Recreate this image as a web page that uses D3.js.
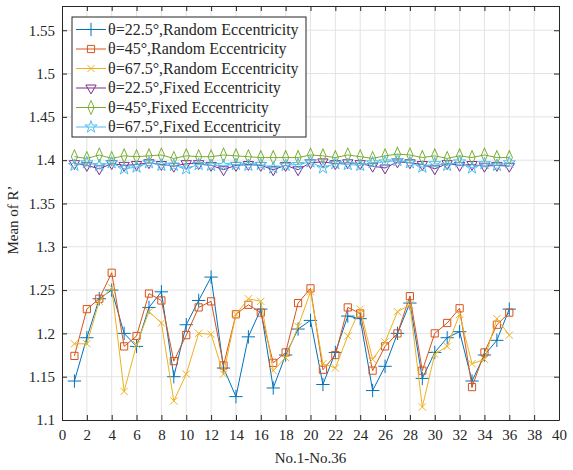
<!DOCTYPE html>
<html>
<head>
<meta charset="utf-8">
<script src="https://cdn.jsdelivr.net/npm/d3@7"></script>
<style>
  body { margin: 0; background: #fff; }
  svg text { font-family: "Liberation Serif"; }
</style>
</head>
<body>
<svg id="chart"></svg>
<script>
// Chart size
const width = 573, height = 470;
const serif = "Liberation Serif";

// Data: sample numbers 1..36
const samples = d3.range(1, 37);

const rand225 = [1.145, 1.195, 1.240, 1.250, 1.200, 1.185, 1.230, 1.248, 1.150, 1.210, 1.238, 1.265,
  1.160, 1.127, 1.196, 1.228, 1.137, 1.175, 1.205, 1.215, 1.141, 1.178, 1.220, 1.217,
  1.134, 1.162, 1.200, 1.235, 1.148, 1.178, 1.195, 1.202, 1.145, 1.175, 1.192, 1.228];
const rand45 = [1.174, 1.228, 1.240, 1.270, 1.185, 1.197, 1.246, 1.238, 1.168, 1.198, 1.230, 1.237,
  1.163, 1.222, 1.233, 1.224, 1.166, 1.178, 1.235, 1.252, 1.158, 1.175, 1.230, 1.223,
  1.157, 1.185, 1.200, 1.243, 1.157, 1.200, 1.212, 1.229, 1.138, 1.178, 1.210, 1.224];
const rand675 = [1.188, 1.188, 1.237, 1.253, 1.133, 1.187, 1.225, 1.212, 1.122, 1.153, 1.200, 1.199,
  1.153, 1.222, 1.240, 1.237, 1.157, 1.172, 1.208, 1.248, 1.165, 1.160, 1.197, 1.228,
  1.170, 1.190, 1.225, 1.233, 1.115, 1.176, 1.185, 1.222, 1.165, 1.170, 1.217, 1.198];
const fixed225 = [1.396, 1.394, 1.390, 1.396, 1.394, 1.395, 1.397, 1.395, 1.393, 1.396, 1.396, 1.394,
  1.389, 1.394, 1.395, 1.394, 1.389, 1.394, 1.389, 1.397, 1.398, 1.396, 1.397, 1.396,
  1.393, 1.391, 1.398, 1.397, 1.395, 1.390, 1.396, 1.394, 1.395, 1.393, 1.394, 1.393];
const fixed45 = [1.404, 1.402, 1.406, 1.402, 1.405, 1.404, 1.405, 1.406, 1.402, 1.405, 1.404, 1.404,
  1.406, 1.405, 1.404, 1.403, 1.403, 1.403, 1.403, 1.406, 1.405, 1.403, 1.406, 1.404,
  1.402, 1.405, 1.407, 1.406, 1.403, 1.405, 1.402, 1.405, 1.403, 1.406, 1.403, 1.403];
const fixed675 = [1.394, 1.397, 1.394, 1.397, 1.390, 1.392, 1.397, 1.394, 1.394, 1.390, 1.395, 1.394,
  1.394, 1.395, 1.394, 1.395, 1.391, 1.394, 1.395, 1.398, 1.391, 1.396, 1.395, 1.394,
  1.397, 1.398, 1.3996, 1.397, 1.392, 1.396, 1.394, 1.398, 1.391, 1.396, 1.394, 1.397];

const seriesNames = ["θ=22.5°,Random Eccentricity", "θ=45°,Random Eccentricity", "θ=67.5°,Random Eccentricity",
  "θ=22.5°,Fixed Eccentricity", "θ=45°,Fixed Eccentricity", "θ=67.5°,Fixed Eccentricity"];
const seriesValues = [rand225, rand45, rand675, fixed225, fixed45, fixed675];
const seriesColors = ["#0072BD", "#D95319", "#EDB120", "#7E2F8E", "#77AC30", "#4DBEEE"];
const seriesMarkers = ["plus", "square", "cross", "triangleDown", "diamond", "star"];

const xTicks = d3.range(0, 41, 2);
const yTicks = d3.range(0, 10).map(i => +(1.1 + i * 0.05).toFixed(2));

// Plot box
const margin = { left: 62, right: 14, top: 6, bottom: 50 };
const plotW = width - margin.left - margin.right;
const plotH = height - margin.top - margin.bottom;

const svg = d3.select("#chart").attr("width", width).attr("height", height);

const x = d3.scaleLinear().domain([0, 40]).range([margin.left, margin.left + plotW]);
const y = d3.scaleLinear().domain([1.1, 1.578]).range([margin.top + plotH, margin.top]);

// Grid
const grid = svg.append("g").attr("stroke", "#e3e3e3").attr("stroke-width", 1);
grid.selectAll(".gx").data(xTicks.slice(1, -1)).join("line")
  .attr("x1", d => x(d)).attr("x2", d => x(d))
  .attr("y1", y.range()[0]).attr("y2", y.range()[1]);
grid.selectAll(".gy").data(yTicks.slice(1)).join("line")
  .attr("y1", d => y(d)).attr("y2", d => y(d))
  .attr("x1", x.range()[0]).attr("x2", x.range()[1]);

// Axes (ticks point inward, box all round)
const axisColor = "#262626";
const axBottom = svg.append("g")
  .attr("transform", `translate(0,${y.range()[0]})`)
  .call(d3.axisBottom(x).tickValues(xTicks).tickSizeInner(-5).tickSizeOuter(0).tickPadding(9));
const axLeft = svg.append("g")
  .attr("transform", `translate(${x.range()[0]},0)`)
  .call(d3.axisLeft(y).tickValues(yTicks).tickFormat(d3.format("")).tickSizeInner(-5).tickSizeOuter(0).tickPadding(7));
const axTop = svg.append("g")
  .attr("transform", `translate(0,${y.range()[1]})`)
  .call(d3.axisTop(x).tickValues(xTicks).tickSizeInner(-5).tickSizeOuter(0).tickFormat(""));
const axRight = svg.append("g")
  .attr("transform", `translate(${x.range()[1]},0)`)
  .call(d3.axisRight(y).tickValues(yTicks).tickSizeInner(-5).tickSizeOuter(0).tickFormat(""));

[axBottom, axLeft, axTop, axRight].forEach(g => {
  g.attr("font-family", serif).attr("font-size", 15);
  g.select(".domain").attr("stroke", axisColor);
  g.selectAll(".tick line").attr("stroke", axisColor);
  g.selectAll("text").attr("fill", axisColor);
});

// Marker shapes
const symbolPath = {
  plus: d3.symbol(d3.symbolPlus, 60),
  square: d3.symbol(d3.symbolSquare, 52),
  cross: d3.symbol(d3.symbolTimes, 36),
  triangleDown: d3.symbol(d3.symbolTriangle, 46),
  diamond: d3.symbol(d3.symbolDiamond, 46),
  star: d3.symbol(d3.symbolStar, 46)
};
function drawMarker(g, kind, color) {
  const p = g.append("path")
    .attr("d", symbolPath[kind]())
    .attr("fill", "none")
    .attr("stroke", color)
    .attr("stroke-width", 1);
  if (kind === "triangleDown") p.attr("transform", "rotate(180)");
  if (kind === "diamond") p.attr("transform", "scale(0.85,1.1)");
}

// Lines and markers
const line = d3.line().x((d, i) => x(samples[i])).y(d => y(d));
const plot = svg.append("g");
seriesValues.forEach((vals, s) => {
  plot.append("path")
    .datum(vals)
    .attr("d", line)
    .attr("fill", "none")
    .attr("stroke", seriesColors[s])
    .attr("stroke-width", 1);
  vals.forEach((v, i) => {
    const g = plot.append("g").attr("transform", `translate(${x(samples[i])},${y(v)})`);
    drawMarker(g, seriesMarkers[s], seriesColors[s]);
  });
});

// Axis labels
svg.append("text")
  .attr("x", x(20)).attr("y", 463)
  .attr("text-anchor", "middle")
  .attr("fill", axisColor)
  .attr("font-family", serif)
  .attr("font-size", 15)
  .text("No.1-No.36");
svg.append("text")
  .attr("transform", `translate(18,220) rotate(-90)`)
  .attr("text-anchor", "middle")
  .attr("fill", axisColor)
  .attr("font-family", serif)
  .attr("font-size", 15)
  .text("Mean of R’");

// Legend
const legend = svg.append("g").attr("transform", "translate(72,17)");
legend.append("rect")
  .attr("width", 234).attr("height", 120)
  .attr("fill", "#fff").attr("stroke", axisColor).attr("stroke-width", 1);
seriesNames.forEach((name, s) => {
  const row = legend.append("g").attr("transform", `translate(0,${12.5 + s * 19.5})`);
  row.append("line").attr("x1", 4).attr("x2", 34).attr("y1", 0).attr("y2", 0)
    .attr("stroke", seriesColors[s]).attr("stroke-width", 1);
  const m = row.append("g").attr("transform", "translate(19,0)");
  drawMarker(m, seriesMarkers[s], seriesColors[s]);
  row.append("text").attr("x", 36).attr("y", 5)
    .attr("fill", axisColor)
    .attr("font-family", serif)
    .attr("font-size", 16)
    .text(name);
});
</script>
</body>
</html>
